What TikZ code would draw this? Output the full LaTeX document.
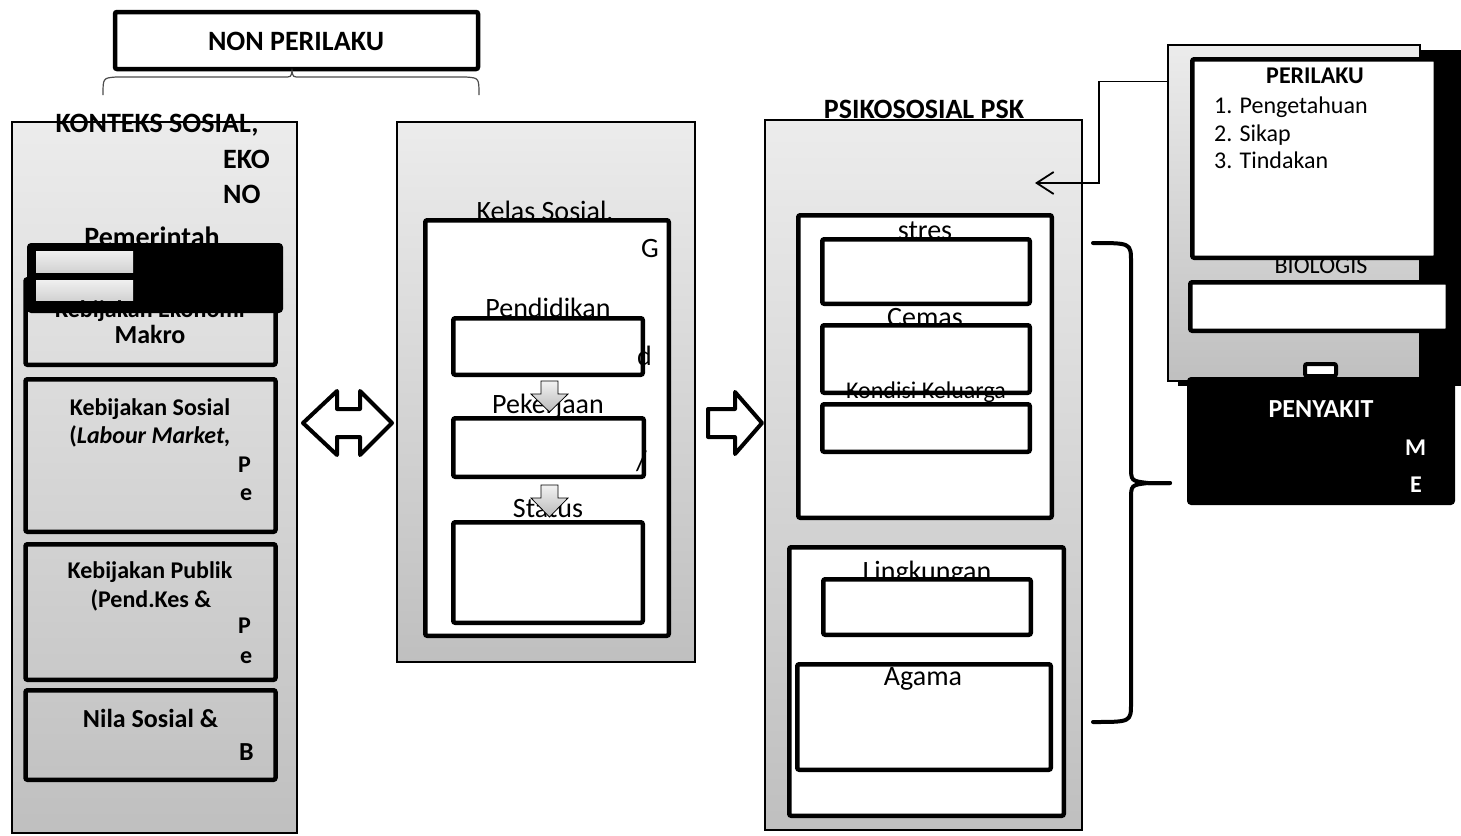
\documentclass[tikz,border=0pt]{standalone}
\usepackage{fontspec}
\setmainfont{Carlito}
\usetikzlibrary{arrows.meta}

\begin{document}
\begin{tikzpicture}[x=1pt,y=-1pt,
            panel/.style={draw=black,line width=1.2pt,top color=gray!15,bottom color=gray!50,inner sep=0pt},
            tbox/.style={draw=black,line width=4.5pt,rounded corners=2pt,inner sep=0pt},
            wbox/.style={tbox,fill=white},
            blackbox/.style={fill=black,rounded corners=4pt,inner sep=0pt},
            graybar/.style={inner sep=0pt,top color=gray!12,bottom color=gray!35},
            txt/.style={anchor=base,inner sep=0pt,font=\fontsize{28}{34}\selectfont},
            txtb/.style={txt,font=\fontsize{28}{34}\selectfont\bfseries},
            sml/.style={anchor=base,inner sep=0pt,font=\fontsize{24}{29}\selectfont},
            smlb/.style={sml,font=\fontsize{24}{29}\selectfont\bfseries},
            midb/.style={sml,font=\fontsize{26}{31}\selectfont\bfseries},
            blockarrow/.style={draw=black,line width=4pt,line join=round,fill=white},
            downarrow/.style={draw=black,line width=0.8pt,top color=gray!10,bottom color=gray!55}]
            \useasboundingbox (0,0) rectangle (1461,835);

            % panels
            \node[fill=black,inner sep=0pt,minimum width=283pt,minimum height=336pt] (bioshadow) at (1319.5,218) {};
            \node[panel,minimum width=285pt,minimum height=711pt] (ctx) at (154.5,477.5) {};
            \node[panel,minimum width=298pt,minimum height=540pt] (kls) at (546,392) {};
            \node[panel,minimum width=317pt,minimum height=710pt] (psi) at (923.5,475) {};
            \node[panel,minimum width=252pt,minimum height=336pt] (bio) at (1294,213) {};

            % non perilaku
            \node[wbox,minimum width=363pt,minimum height=57pt] (nonp) at (296.5,40.5) {};
            \node[txtb] (nonpT) at (296,50) {NON PERILAKU};
            \draw[line width=1.2pt,gray!60!black] (103,95) .. controls (103,78) .. (116,77) -- (284,77)
                .. controls (291,77) .. (292,71) .. controls (293,77) .. (300,77) -- (466,77)
                .. controls (479,78) .. (479,95);

            % konteks sosial
            \node[txtb] (ctxT) at (157,132) {KONTEKS SOSIAL,};
            \node[txtb,anchor=base west] (eko) at (223,168) {EKO};
            \node[txtb,anchor=base west] (no) at (223,203) {NO};
            \node[txtb] (pem) at (152,246) {Pemerintah};
            \node[tbox,minimum width=250pt,minimum height=85.5pt] (ekon) at (150.5,322) {};
            \node[tbox,minimum width=250pt,minimum height=152.5pt] (sos) at (150.5,455.5) {};
            \node[tbox,minimum width=250pt,minimum height=135.5pt] (pub) at (150.5,612) {};
            \node[tbox,minimum width=250pt,minimum height=89.5pt] (nilai) at (150.5,735) {};
            \node[blackbox,minimum width=256pt,minimum height=70pt] (ekobar) at (155,278) {};
            \node[graybar,minimum width=97pt,minimum height=21pt] (bar1) at (84.5,261.5) {};
            \node[graybar,minimum width=97pt,minimum height=20pt] (bar2) at (84.5,290) {};
            \node[smlb] (ekonT) at (150,317) {Kebijakan Ekonomi};
            \node[midb] (makro) at (150,343) {Makro};
            \node[smlb] (sosT) at (150,415) {Kebijakan Sosial};
            \node[smlb] (sosT2) at (150,443) {(\textit{Labour Market,}};
            \node[smlb,anchor=base west] (sosP) at (238,472) {P};
            \node[smlb,anchor=base west] (sosE) at (240,500) {e};
            \node[smlb] (pubT) at (150,578) {Kebijakan Publik};
            \node[smlb] (pubT2) at (151,607) {(Pend.Kes \&};
            \node[smlb,anchor=base west] (pubP) at (238,633) {P};
            \node[smlb,anchor=base west] (pubE) at (240,663) {e};
            \node[midb] (nilaiT) at (150.5,727) {Nila Sosial \&};
            \node[midb,anchor=base west] (nilaiB) at (239,760) {B};

            \draw[blockarrow] (303,423) -- (337,391) -- (337,409) -- (360,409) -- (360,391) -- (392,423)
                -- (360,455) -- (360,437) -- (337,437) -- (337,455) -- cycle;

            % kelas sosial
            \node[txt] (kelasT) at (545,220) {Kelas Sosial,};
            \node[wbox,minimum width=243.5pt,minimum height=415.5pt] (kelas) at (547,428) {};
            \node[txt,anchor=base west] (kelasG) at (641,257) {G};
            \node[txt] (pendT) at (548,317) {Pendidikan};
            \node[wbox,minimum width=189.5pt,minimum height=56.5pt] (pend) at (548,346.5) {};
            \node[txt,anchor=base west] (pendD) at (637,365) {d};
            \node[txt] (pekT) at (548,413) {Pekerjaan};
            \node[wbox,minimum width=190.5pt,minimum height=58.5pt] (pek) at (548.5,447.5) {};
            \node[txt,anchor=base west] (pekS) at (636,470) {/};
            \node[txt] (statT) at (548,517) {Status};
            \node[wbox,minimum width=189.5pt,minimum height=100.5pt] (stat) at (548,572.5) {};
            \draw[downarrow] (541,381) -- (558,381) -- (558,394) -- (568,394) -- (549.5,412) -- (531,394) -- (541,394) -- cycle;
            \draw[downarrow] (541,485) -- (558,485) -- (558,498) -- (568,498) -- (549.5,517) -- (531,498) -- (541,498) -- cycle;

            \draw[blockarrow] (708,409) -- (735,409) -- (735,392) -- (762,423) -- (735,454) -- (735,437) -- (708,437) -- cycle;

            % psikososial
            \node[txtb] (psiT) at (924,118) {PSIKOSOSIAL PSK};
            \node[wbox,minimum width=253.5pt,minimum height=302.5pt] (psiA) at (925,366.5) {};
            \node[txt] (stresT) at (925,239) {stres};
            \node[wbox,minimum width=207.5pt,minimum height=64.5pt] (stres) at (926,271.5) {};
            \node[txt] (cemasT) at (925,326) {Cemas};
            \node[wbox,minimum width=207.5pt,minimum height=67.5pt] (cemas) at (926,359) {};
            \node[sml] (kondT) at (926,398) {Kondisi Keluarga};
            \node[wbox,minimum width=207.5pt,minimum height=47.5pt] (kond) at (926,428) {};
            \node[wbox,minimum width=274.5pt,minimum height=268.5pt] (psiB) at (926.5,681.5) {};
            \node[txt] (lingT) at (927,580) {Lingkungan};
            \node[wbox,minimum width=207.5pt,minimum height=55.5pt] (ling) at (927,607) {};
            \node[wbox,minimum width=253.5pt,minimum height=105.5pt] (agama) at (924,717) {};
            \node[txt] (agamaT) at (923,685) {Agama};

            \draw[line width=4pt,line cap=round] (1093,243) .. controls (1131,243) .. (1131,262) -- (1131,466)
                .. controls (1131,481) .. (1148,483) -- (1170,483);
            \draw[line width=4pt,line cap=round] (1170,483) -- (1148,483) .. controls (1131,485) .. (1131,500)
                -- (1131,703) .. controls (1131,722) .. (1093,722);

            % perilaku, biologis, penyakit
            \node[sml] (bioT) at (1321,273) {BIOLOGIS};
            \node[wbox,minimum width=243.5pt,minimum height=198.5pt] (peri) at (1314,158.5) {};
            \node[smlb] (periT) at (1315,83) {PERILAKU};
            \node[sml,anchor=base west] (peri1) at (1214,113) {1. Pengetahuan};
            \node[sml,anchor=base west] (peri2) at (1214,141) {2. Sikap};
            \node[sml,anchor=base west] (peri3) at (1214,168) {3. Tindakan};
            \node[wbox,minimum width=257.5pt,minimum height=48.5pt] (biol) at (1319,306.5) {};
            \node[wbox,line width=4pt,minimum width=31pt,minimum height=12pt] (link) at (1320.5,370) {};
            \node[blackbox,minimum width=268pt,minimum height=128pt] (peny) at (1321,441) {};
            \node[midb,white] (penyT) at (1321,417) {PENYAKIT};
            \node[smlb,white,anchor=base west] (penyM) at (1405,455) {M};
            \node[smlb,white,anchor=base west] (penyE) at (1410,492) {E};

            \coordinate (fbtip) at (1035,183);
            \draw[line width=1.8pt,-{Straight Barb[length=17pt,width=22pt]}] ([yshift=-37pt]bio.north west) -| ([xshift=64pt]fbtip) -- (fbtip);
\end{tikzpicture}
\end{document}
